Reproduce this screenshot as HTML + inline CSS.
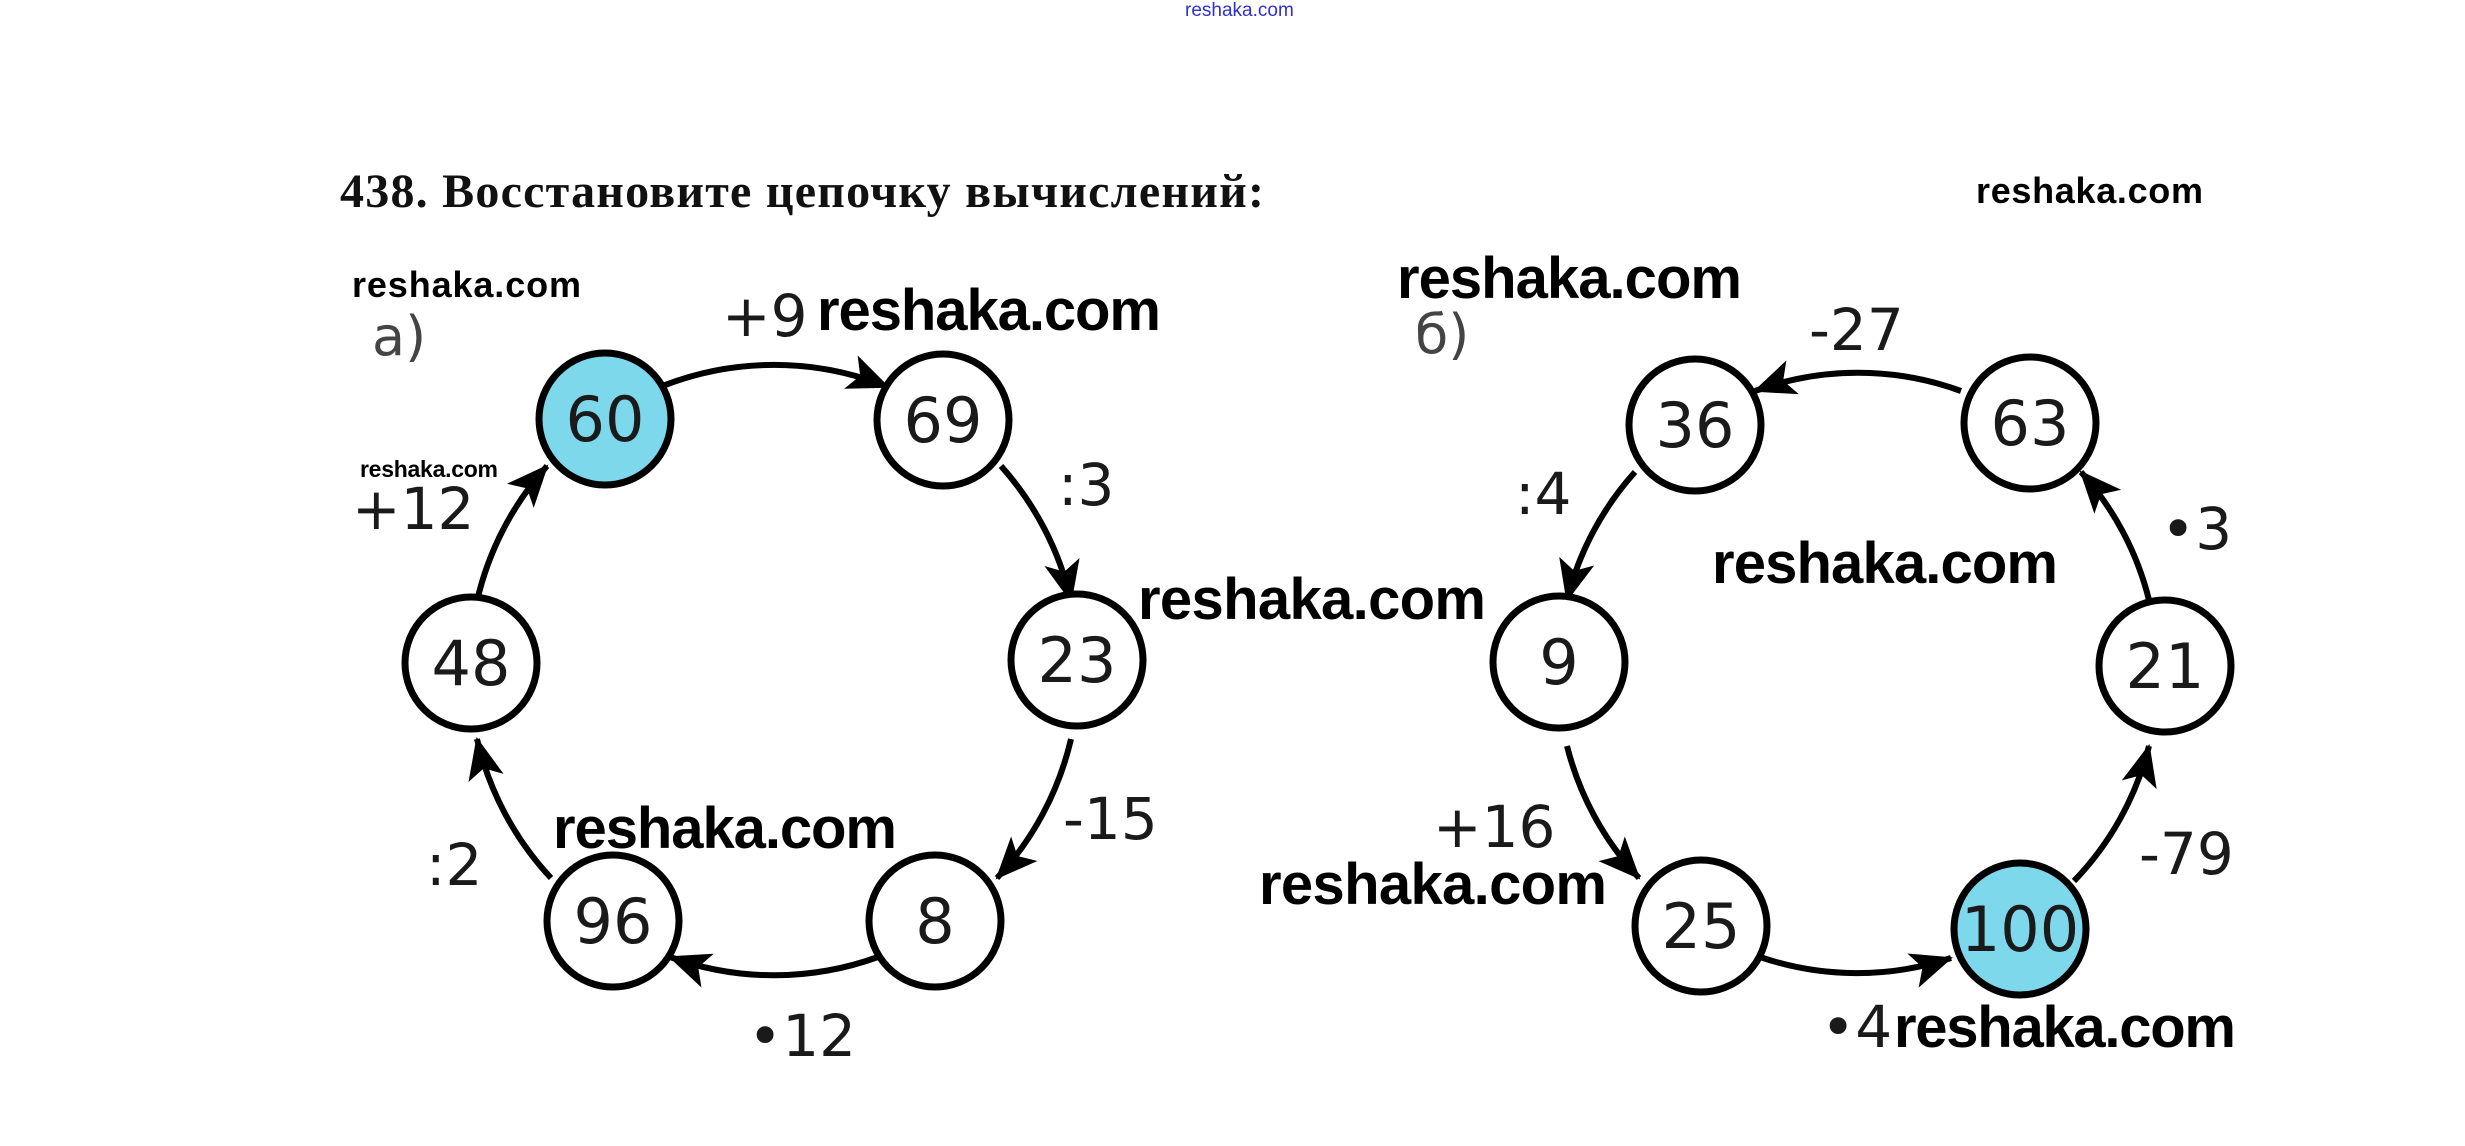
<!DOCTYPE html>
<html><head><meta charset="utf-8"><style>
html,body{margin:0;padding:0;background:#fff;}
svg{display:block}
.n{font-family:"DejaVu Sans",sans-serif;font-size:62px;fill:#1a1a1a;text-anchor:middle}
.l{font-family:"DejaVu Sans",sans-serif;font-size:58px;fill:#1a1a1a}
.w{font-family:"Liberation Sans",sans-serif;font-weight:bold;fill:#000}
</style></head><body>
<svg width="2465" height="1146" viewBox="0 0 2465 1146" xmlns="http://www.w3.org/2000/svg">
<defs>
<marker id="a" markerUnits="userSpaceOnUse" markerWidth="44" markerHeight="40" refX="40" refY="20" orient="auto">
<path d="M0,2 L42,20 L0,38 L10,20 Z" fill="#000"/>
</marker>
</defs>
<text x="1185" y="16" font-family="Liberation Sans, sans-serif" font-size="19" fill="#3030d0">reshaka.com</text>
<text x="340" y="207" font-family="Liberation Serif, serif" font-weight="bold" font-size="48" fill="#111" textLength="924">438. Восстановите цепочку вычислений:</text>

<g fill="none" stroke="#000" stroke-width="6" marker-end="url(#a)">
<path d="M660,387 A305,305 0 0 1 888,387"/>
<path d="M1001,466 A305,305 0 0 1 1071,601"/>
<path d="M1071,739 A305,305 0 0 1 997,878"/>
<path d="M878,957 A305,305 0 0 1 670,957"/>
<path d="M551,878 A305,305 0 0 1 477,739"/>
<path d="M477,601 A305,305 0 0 1 547,466"/>
<path d="M2074,881 A300,300 0 0 0 2149,746"/>
<path d="M2149,600 A300,300 0 0 0 2081,472"/>
<path d="M1961,391 A300,300 0 0 0 1755,391"/>
<path d="M1635,472 A300,300 0 0 0 1567,600"/>
<path d="M1567,746 A300,300 0 0 0 1639,878"/>
<path d="M1760,957 A300,300 0 0 0 1951,958"/>
</g>

<g stroke="#000" stroke-width="7" fill="#fff">
<circle cx="605" cy="419" r="66" fill="#7dd8ec"/>
<circle cx="943" cy="420" r="66"/>
<circle cx="1077" cy="660" r="66"/>
<circle cx="935" cy="921" r="66"/>
<circle cx="613" cy="921" r="66"/>
<circle cx="471" cy="663" r="66"/>
<circle cx="1695" cy="425" r="66"/>
<circle cx="2030" cy="423" r="66"/>
<circle cx="2165" cy="666" r="66"/>
<circle cx="2020" cy="929" r="66" fill="#7dd8ec"/>
<circle cx="1701" cy="926" r="66"/>
<circle cx="1559" cy="662" r="66"/>
</g>
<g class="n">
<text x="605" y="441">60</text>
<text x="943" y="442">69</text>
<text x="1077" y="682">23</text>
<text x="935" y="943">8</text>
<text x="613" y="943">96</text>
<text x="471" y="685">48</text>
<text x="1695" y="447">36</text>
<text x="2030" y="445">63</text>
<text x="2165" y="688">21</text>
<text x="2020" y="951">100</text>
<text x="1701" y="948">25</text>
<text x="1559" y="684">9</text>
</g>
<g class="l">
<text x="372" y="355" font-size="54" fill="#444">a)</text>
<text x="722" y="336">+9</text>
<text x="352" y="529">+12</text>
<text x="1058" y="505">:3</text>
<text x="1063" y="839">-15</text>
<text x="426" y="885">:2</text>
<text x="748" y="1056">•12</text>
<text x="1415" y="353" font-size="54" fill="#444">б)</text>
<text x="1809" y="350">-27</text>
<text x="1515" y="514">:4</text>
<text x="2161" y="549">•3</text>
<text x="1433" y="847">+16</text>
<text x="2139" y="874">-79</text>
<text x="1821" y="1047">•4</text>
</g>
<g class="w">
<text x="352" y="297" font-size="36" textLength="229">reshaka.com</text>
<text x="360" y="477" font-size="23" textLength="138">reshaka.com</text>
<text x="817" y="330" font-size="58" textLength="344">reshaka.com</text>
<text x="1138" y="619" font-size="58" textLength="348">reshaka.com</text>
<text x="553" y="848" font-size="58" textLength="344">reshaka.com</text>
<text x="1976" y="203" font-size="36" textLength="227">reshaka.com</text>
<text x="1397" y="298" font-size="58" textLength="345">reshaka.com</text>
<text x="1712" y="583" font-size="58" textLength="346">reshaka.com</text>
<text x="1259" y="904" font-size="58" textLength="348">reshaka.com</text>
<text x="1894" y="1047" font-size="58" textLength="342">reshaka.com</text>
</g>
</svg>
</body></html>
